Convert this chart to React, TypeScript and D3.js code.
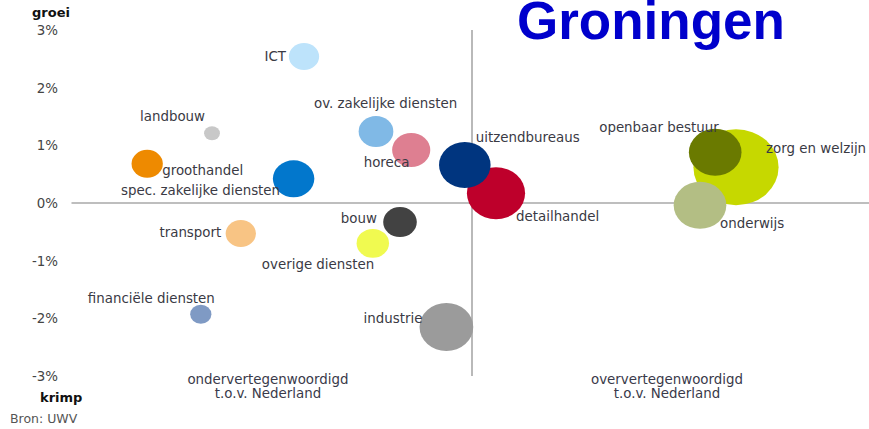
import React from "react";
import * as d3 from "d3";

// ---- data ----
const sectors = [
  "ICT",
  "landbouw",
  "groothandel",
  "spec. zakelijke diensten",
  "ov. zakelijke diensten",
  "horeca",
  "detailhandel",
  "uitzendbureaus",
  "overige diensten",
  "bouw",
  "transport",
  "financiële diensten",
  "industrie",
  "zorg en welzijn",
  "openbaar bestuur",
  "onderwijs",
];
// relative representation vs. Netherlands (1 = equal)
const representation = [0.79, 0.675, 0.594, 0.777, 0.88, 0.924, 1.03, 0.991, 0.876, 0.91, 0.711, 0.661, 0.968, 1.33, 1.304, 1.285];
// job growth, %
const growth = [2.54, 1.21, 0.68, 0.42, 1.24, 0.92, 0.17, 0.66, -0.7, -0.33, -0.53, -1.93, -2.15, 0.62, 0.88, -0.04];
// employment (relative size)
const employment = [7.3, 2.0, 7.8, 13.7, 9.6, 11.6, 27.0, 21.2, 8.4, 9.0, 7.3, 3.6, 23.0, 57.8, 22.1, 22.1];
const colors = [
  "#BDE3FB", "#C8C8C8", "#EE8A00", "#0277CC", "#80B9E6", "#DE7F91",
  "#BE002B", "#00357F", "#F0FA50", "#424242", "#F8C484", "#7F9AC4",
  "#9B9B9B", "#C6D800", "#6A7A00", "#B3BE84",
];
const yTicks = [-3, -2, -1, 0, 1, 2, 3];

// label placement relative to bubble centre
const labelLayout: [number, number, string][] = [
  [-18, 4.5, "end"],
  [-72, -12, "start"],
  [15, 11, "start"],
  [-13.5, 16.5, "end"],
  [-62, -23.5, "start"],
  [-47.5, 17, "start"],
  [20, 28, "start"],
  [11, -23, "start"],
  [-111, 25.5, "start"],
  [-23, 1, "end"],
  [-19.5, 3.5, "end"],
  [-113, -11.5, "start"],
  [-24, -4, "end"],
  [30, -14, "start"],
  [-116, -20.5, "start"],
  [20, 22.5, "start"],
];

const W = 869;
const H = 429;
const FONT = "'DejaVu Sans', Verdana, sans-serif";

export default function App() {
  const x = d3.scaleLinear().domain([0.5, 1.5]).range([72, 872]);
  const y = d3.scaleLinear().domain([-3, 3]).range([376, 30]);
  const r = d3.scaleSqrt().domain([0, 60]).range([0, 38.73]);
  const ratio = 1.12;

  return (
    <svg
      width={W}
      height={H}
      style={{ position: "absolute", left: 0, top: 0, background: "#fff" }}
      fontFamily={FONT}
    >
      <rect x={0} y={0} width={W} height={H} fill="#fff" />
      {/* axes */}
      <line x1={x(0.5) - 0.5} x2={W} y1={y(0)} y2={y(0)} stroke="#A8A8A8" strokeWidth={1.6} />
      <line x1={x(1)} x2={x(1)} y1={y(3)} y2={y(-3)} stroke="#A8A8A8" strokeWidth={1.6} />
      {yTicks.map((t) => (
        <text key={t} x={58} y={y(t) + 5} textAnchor="end" fontSize={13.4} fill="#444">
          {`${t}%`}
        </text>
      ))}
      <text x={32} y={17} fontSize={13} fontWeight="bold" fill="#111">groei</text>
      <text x={40} y={402} fontSize={13} fontWeight="bold" fill="#111">krimp</text>
      <text x={10} y={423} fontSize={12.5} fill="#555">Bron: UWV</text>
      <text x={268} y={384} textAnchor="middle" fontSize={13.4} fill="#3a3a4a">ondervertegenwoordigd</text>
      <text x={268} y={397.5} textAnchor="middle" fontSize={13.4} fill="#3a3a4a">t.o.v. Nederland</text>
      <text x={667} y={384} textAnchor="middle" fontSize={13.4} fill="#3a3a4a">oververtegenwoordigd</text>
      <text x={667} y={398} textAnchor="middle" fontSize={13.4} fill="#3a3a4a">t.o.v. Nederland</text>

      {/* bubbles */}
      {sectors.map((s, i) => (
        <ellipse
          key={s}
          cx={x(representation[i])}
          cy={y(growth[i])}
          rx={r(employment[i]) * ratio}
          ry={r(employment[i])}
          fill={colors[i]}
        />
      ))}
      {/* labels */}
      {sectors.map((s, i) => (
        <text
          key={s + "-l"}
          x={x(representation[i]) + labelLayout[i][0]}
          y={y(growth[i]) + labelLayout[i][1]}
          textAnchor={labelLayout[i][2] as any}
          fontSize={13.4}
          fill="#3a3a44"
        >
          {s}
        </text>
      ))}

      <text
        x={517}
        y={38.5}
        fontFamily="'Liberation Sans', Arial, sans-serif"
        fontWeight="bold"
        fontSize={53}
        fill="#0000CC"
      >
        Groningen
      </text>
    </svg>
  );
}
